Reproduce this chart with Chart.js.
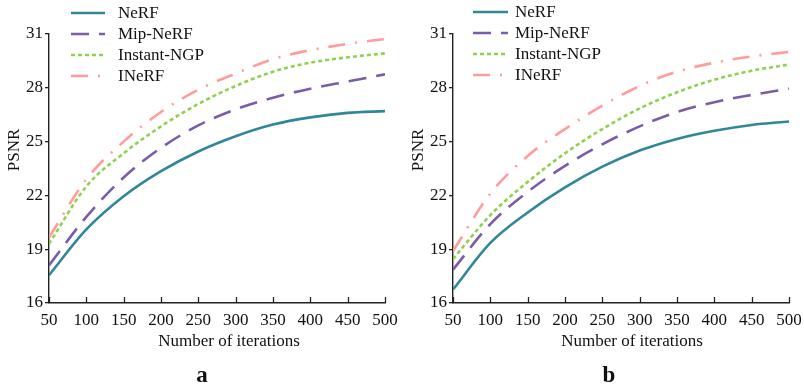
<!DOCTYPE html>
<html>
<head>
<meta charset="utf-8">
<script src="https://cdn.jsdelivr.net/npm/chart.js@4/dist/chart.umd.min.js"></script>
<style>
  html, body { margin:0; padding:0; background:#fff; }
  #wrap { position:relative; width:804px; height:387px; }
  #ca { position:absolute; left:0; top:0; }
  #cb { position:absolute; left:400px; top:0; }
</style>
</head>
<body>
<div id="wrap">
  <canvas id="ca" width="400" height="387"></canvas>
  <canvas id="cb" width="404" height="387"></canvas>
</div>
<script>
const iterations = [50, 100, 150, 200, 250, 300, 350, 400, 450, 500];
const seriesNames = ["NeRF", "Mip-NeRF", "Instant-NGP", "INeRF"];
const yTickValues = [16, 19, 22, 25, 28, 31];

// Panel a
const nerfA   = [17.55, 20.1, 21.95, 23.35, 24.45, 25.3, 25.95, 26.35, 26.6, 26.7];
const mipA    = [18.1, 20.8, 23.0, 24.65, 25.9, 26.8, 27.45, 27.95, 28.35, 28.75];
const ngpA    = [19.3, 22.5, 24.35, 25.85, 27.1, 28.1, 28.9, 29.4, 29.7, 29.92];
const inerfA  = [19.65, 22.9, 25.0, 26.65, 27.9, 28.8, 29.6, 30.1, 30.45, 30.72];

// Panel b
const nerfB   = [16.75, 19.35, 21.05, 22.45, 23.6, 24.5, 25.15, 25.6, 25.93, 26.12];
const mipB    = [17.86, 20.4, 22.2, 23.65, 24.85, 25.85, 26.65, 27.2, 27.6, 27.95];
const ngpB    = [18.45, 20.9, 22.75, 24.35, 25.7, 26.85, 27.75, 28.45, 28.95, 29.3];
const inerfB  = [18.9, 22.1, 24.2, 25.7, 27.0, 28.1, 28.9, 29.4, 29.75, 30.0];

const colors = ["#2f8799", "#7a5ca8", "#8fd14f", "#ff9c9c"];
const dashes = [[], [18, 10], [4, 3], [17, 10, 2, 10]];
const FONT = "'Liberation Serif', 'Times New Roman', serif";

function makeDatasets(arrs) {
  return arrs.map((arr, i) => ({
    label: seriesNames[i],
    data: iterations.map((x, j) => ({ x: x, y: arr[j] })),
    borderColor: colors[i],
    backgroundColor: colors[i],
    borderWidth: 2.6,
    borderDash: dashes[i],
    pointRadius: 0,
    cubicInterpolationMode: 'monotone',
    fill: false
  }));
}

const decorPlugin = {
  id: 'decor',
  afterDraw(chart) {
    const o = chart.options.plugins.decor;
    const ctx = chart.ctx;
    const xs = chart.scales.x;
    const area = chart.chartArea;
    ctx.save();
    // inward x ticks
    ctx.strokeStyle = '#222';
    ctx.lineWidth = 1.3;
    xs.ticks.forEach(t => {
      const px = Math.round(xs.getPixelForValue(t.value)) + 0.5;
      ctx.beginPath();
      ctx.moveTo(px, area.bottom);
      ctx.lineTo(px, area.bottom - 6);
      ctx.stroke();
    });
    // legend
    ctx.font = "17px " + FONT;
    ctx.textBaseline = 'middle';
    ctx.textAlign = 'left';
    chart.data.datasets.forEach((ds, i) => {
      const y = o.legendY[i];
      ctx.strokeStyle = ds.borderColor;
      ctx.lineWidth = 2.6;
      ctx.setLineDash(ds.borderDash);
      ctx.beginPath();
      ctx.moveTo(o.legendX0, y);
      ctx.lineTo(o.legendX1, y);
      ctx.stroke();
      ctx.setLineDash([]);
      ctx.fillStyle = '#111';
      ctx.fillText(ds.label, o.legendTextX, y + 1);
    });
    // axis titles
    ctx.fillStyle = '#111';
    ctx.font = "17px " + FONT;
    ctx.textAlign = 'center';
    ctx.textBaseline = 'middle';
    ctx.fillText(o.xTitle, o.xTitleX, o.xTitleY);
    ctx.save();
    ctx.translate(o.yTitleX, o.yTitleY);
    ctx.rotate(-Math.PI / 2);
    ctx.fillText(o.yTitle, 0, 0);
    ctx.restore();
    // panel letter
    ctx.font = "bold 23px " + FONT;
    ctx.fillText(o.panel, o.panelX, o.panelY);
    ctx.restore();
  }
};

function makeChart(id, arrs, cfg) {
  return new Chart(document.getElementById(id), {
    type: 'line',
    data: { datasets: makeDatasets(arrs) },
    options: {
      responsive: false,
      animation: false,
      layout: { padding: { left: 0, top: 34, right: cfg.rightPad, bottom: 0 } },
      plugins: {
        legend: { display: false },
        tooltip: { enabled: false },
        decor: cfg.decor
      },
      scales: {
        x: {
          type: 'linear', min: 50, max: 500,
          ticks: { stepSize: 50, padding: 7, color: '#111', font: { family: FONT, size: 17 } },
          grid: { display: true, drawOnChartArea: false, drawTicks: false },
          border: { display: true, color: '#222', width: 1.4 },
          afterFit(s) { s.height = 84; s.paddingLeft = 0; s.paddingRight = 0; }
        },
        y: {
          min: 16, max: 31,
          afterBuildTicks(s) { s.ticks = yTickValues.map(v => ({ value: v })); },
          ticks: { padding: 2, color: '#111', font: { family: FONT, size: 17 } },
          grid: { display: true, drawOnChartArea: false, drawTicks: true, tickLength: 4, color: '#222', lineWidth: 1.3 },
          border: { display: true, color: '#222', width: 1.4 },
          afterFit(s) { s.width = cfg.yWidth; s.paddingTop = 0; s.paddingBottom = 0; }
        }
      }
    },
    plugins: [decorPlugin]
  });
}

makeChart('ca', [nerfA, mipA, ngpA, inerfA], {
  rightPad: 15, yWidth: 49,
  decor: {
    legendY: [13, 34, 55, 76], legendX0: 71, legendX1: 105, legendTextX: 118,
    xTitle: 'Number of iterations', xTitleX: 229, xTitleY: 342,
    yTitle: 'PSNR', yTitleX: 15, yTitleY: 150,
    panel: 'a', panelX: 202, panelY: 376
  }
});
makeChart('cb', [nerfB, mipB, ngpB, inerfB], {
  rightPad: 15, yWidth: 53,
  decor: {
    legendY: [12, 33, 54, 75], legendX0: 73, legendX1: 108, legendTextX: 115,
    xTitle: 'Number of iterations', xTitleX: 232, xTitleY: 342,
    yTitle: 'PSNR', yTitleX: 19, yTitleY: 150,
    panel: 'b', panelX: 209, panelY: 376
  }
});
</script>
</body>
</html>
